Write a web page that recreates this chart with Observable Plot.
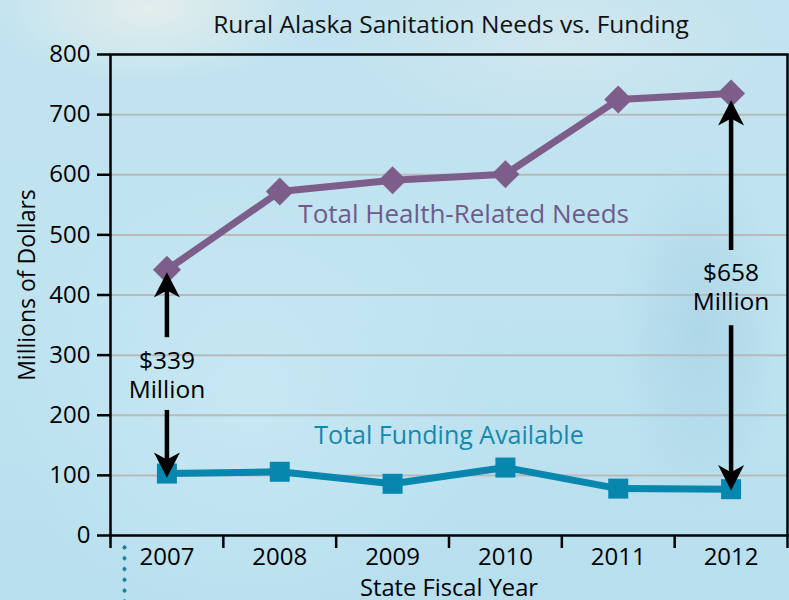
<!DOCTYPE html>
<html>
<head>
<meta charset="utf-8">
<script src="https://cdn.jsdelivr.net/npm/d3@7"></script>
<script src="https://cdn.jsdelivr.net/npm/@observablehq/plot@0.6"></script>
<style>
  html, body { margin: 0; padding: 0; }
  body {
    width: 789px; height: 600px; overflow: hidden; position: relative;
    background:
      radial-gradient(ellipse 120px 260px at 700px 330px, rgba(160,205,225,0.55), rgba(160,205,225,0) 70%),
      radial-gradient(ellipse 200px 90px at 150px 10px, rgba(235,240,235,0.8), rgba(235,240,235,0) 80%),
      radial-gradient(ellipse 260px 120px at 560px 40px, rgba(215,232,238,0.7), rgba(215,232,238,0) 80%),
      radial-gradient(ellipse 300px 300px at 250px 400px, rgba(205,235,245,0.6), rgba(205,235,245,0) 80%),
      linear-gradient(180deg, #c2e3ef 0%, #bfe3f0 50%, #b8dfee 100%);
  }
  #chart { position: absolute; left: 0; top: 0; }
  #dots {
    position: absolute; left: 122px; top: 542px; width: 5px; height: 60px;
    background: radial-gradient(circle, #17809c 1.8px, rgba(0,0,0,0) 2.3px) 0 0 / 5px 10.8px repeat-y;
  }
</style>
</head>
<body>
<div id="chart"></div>
<div id="dots"></div>
<script>
const years = [2007, 2008, 2009, 2010, 2011, 2012];
const needs = [442, 572, 591, 601, 725, 735];
const funding = [103, 106, 86, 113, 78, 77];
const yTicks = [0, 100, 200, 300, 400, 500, 600, 700, 800];
const gridValues = [100, 200, 300, 400, 500, 600, 700];
const bandEdges = [2006.5, 2007.5, 2008.5, 2009.5, 2010.5, 2011.5, 2012.5];

// gap annotations: year, label, shaft ranges (data units)
const gapYears = [2007, 2012];
const gapLabels = ["$339\nMillion", "$658\nMillion"];
const gapLabelY = [268, 414];
const upFrom = [329, 474];
const upTo = [418, 704];
const downFrom = [208, 349];
const downTo = [116, 95];

const seriesNames = ["Total Health-Related Needs", "Total Funding Available"];
const seriesLabelX = [2009.63, 2009.5];
const seriesLabelY = [534, 165];
const seriesLabelColors = ["#6e5b8c", "#1788ad"];
const seriesLabelSizes = [26, 25];

const needsRows = years.map((y, i) => ({year: y, value: needs[i]}));
const fundRows = years.map((y, i) => ({year: y, value: funding[i]}));
const gapRows = gapYears.map((y, i) => ({
  year: y, label: gapLabels[i], ly: gapLabelY[i],
  u1: upFrom[i], u2: upTo[i], d1: downFrom[i], d2: downTo[i]
}));
const labelRows = seriesNames.map((n, i) => ({
  name: n, x: seriesLabelX[i], y: seriesLabelY[i], color: seriesLabelColors[i], size: seriesLabelSizes[i]
}));

const font = "'Open Sans', 'DejaVu Sans', sans-serif";

const radius = s => Math.sqrt(s / Math.PI);
const diamond = { draw(ctx, size) { const r = radius(size);
  ctx.moveTo(0, -r); ctx.lineTo(r, 0); ctx.lineTo(0, r); ctx.lineTo(-r, 0); ctx.closePath(); } };
const square = { draw(ctx, size) { const r = radius(size);
  ctx.rect(-r, -r, 2 * r, 2 * r); } };
const headUp = { draw(ctx, size) { const s = radius(size);
  ctx.moveTo(0, 0); ctx.lineTo(s, 1.95 * s); ctx.lineTo(0, 1.4 * s); ctx.lineTo(-s, 1.95 * s); ctx.closePath(); } };
const headDown = { draw(ctx, size) { const s = radius(size);
  ctx.moveTo(0, 0); ctx.lineTo(s, -1.95 * s); ctx.lineTo(0, -1.4 * s); ctx.lineTo(-s, -1.95 * s); ctx.closePath(); } };

const purple = "#7d5e8a";
const teal = "#0786ae";

const chart = Plot.plot({
  width: 789,
  height: 600,
  marginLeft: 110,
  marginRight: 2,
  marginTop: 54,
  marginBottom: 65,
  style: { background: "transparent", fontFamily: font, overflow: "visible" },
  x: { domain: [2006.5, 2012.5], axis: null },
  y: { domain: [0, 800], axis: null },
  marks: [
    Plot.ruleY(gridValues, { stroke: "#b9b9b9", strokeWidth: 2 }),
    Plot.frame({ stroke: "#000", strokeWidth: 2.5 }),
    Plot.axisY({ ticks: yTicks, tickSize: 13, tickPadding: 7, fontSize: 24, stroke: "#000", strokeWidth: 2.5, color: "#000", label: null, tickFormat: d => d }),
    Plot.axisX({ ticks: years, tickSize: 0, tickPadding: 12, fontSize: 24, color: "#000", label: null, tickFormat: d => String(d) }),
    Plot.axisX({ ticks: bandEdges, tickSize: 13, strokeWidth: 2.5, stroke: "#000", tickFormat: () => "", label: null }),
    Plot.text(["Rural Alaska Sanitation Needs vs. Funding"], { frameAnchor: "top", textAnchor: "middle", dy: -29, dx: 2, fontSize: 24.5, fill: "#111", lineAnchor: "middle" }),
    Plot.text(["Millions of Dollars"], { frameAnchor: "left", textAnchor: "middle", rotate: -90, dx: -83, dy: -10, fontSize: 23, fill: "#000", lineAnchor: "middle" }),
    Plot.text(["State Fiscal Year"], { frameAnchor: "bottom", textAnchor: "middle", dy: 53, fontSize: 23.7, fill: "#000", lineAnchor: "middle" }),

    Plot.line(needsRows, { x: "year", y: "value", stroke: purple, strokeWidth: 7 }),
    Plot.dot(needsRows, { x: "year", y: "value", symbol: diamond, r: 14, fill: purple, stroke: "none" }),
    Plot.line(fundRows, { x: "year", y: "value", stroke: teal, strokeWidth: 7 }),
    Plot.dot(fundRows, { x: "year", y: "value", symbol: square, r: 10, fill: teal, stroke: "none" }),

    Plot.ruleX(gapRows, { x: "year", y1: "u1", y2: "u2", stroke: "#000", strokeWidth: 4.5 }),
    Plot.ruleX(gapRows, { x: "year", y1: "d1", y2: "d2", stroke: "#000", strokeWidth: 4.5 }),
    Plot.dot(gapRows, { x: "year", y: "u2", symbol: headUp, r: 13, fill: "#000", stroke: "none", dy: -12 }),
    Plot.dot(gapRows, { x: "year", y: "d2", symbol: headDown, r: 13, fill: "#000", stroke: "none", dy: 12 }),
    Plot.text(gapRows, { x: "year", y: "ly", text: "label", fontSize: 24.5, fill: "#000", lineHeight: 1.18, lineAnchor: "middle" }),

    Plot.text(labelRows, { x: "x", y: "y", text: "name", fill: "color", fontSize: "size", lineAnchor: "middle" })
  ]
});
document.getElementById("chart").appendChild(chart);
</script>
</body>
</html>
